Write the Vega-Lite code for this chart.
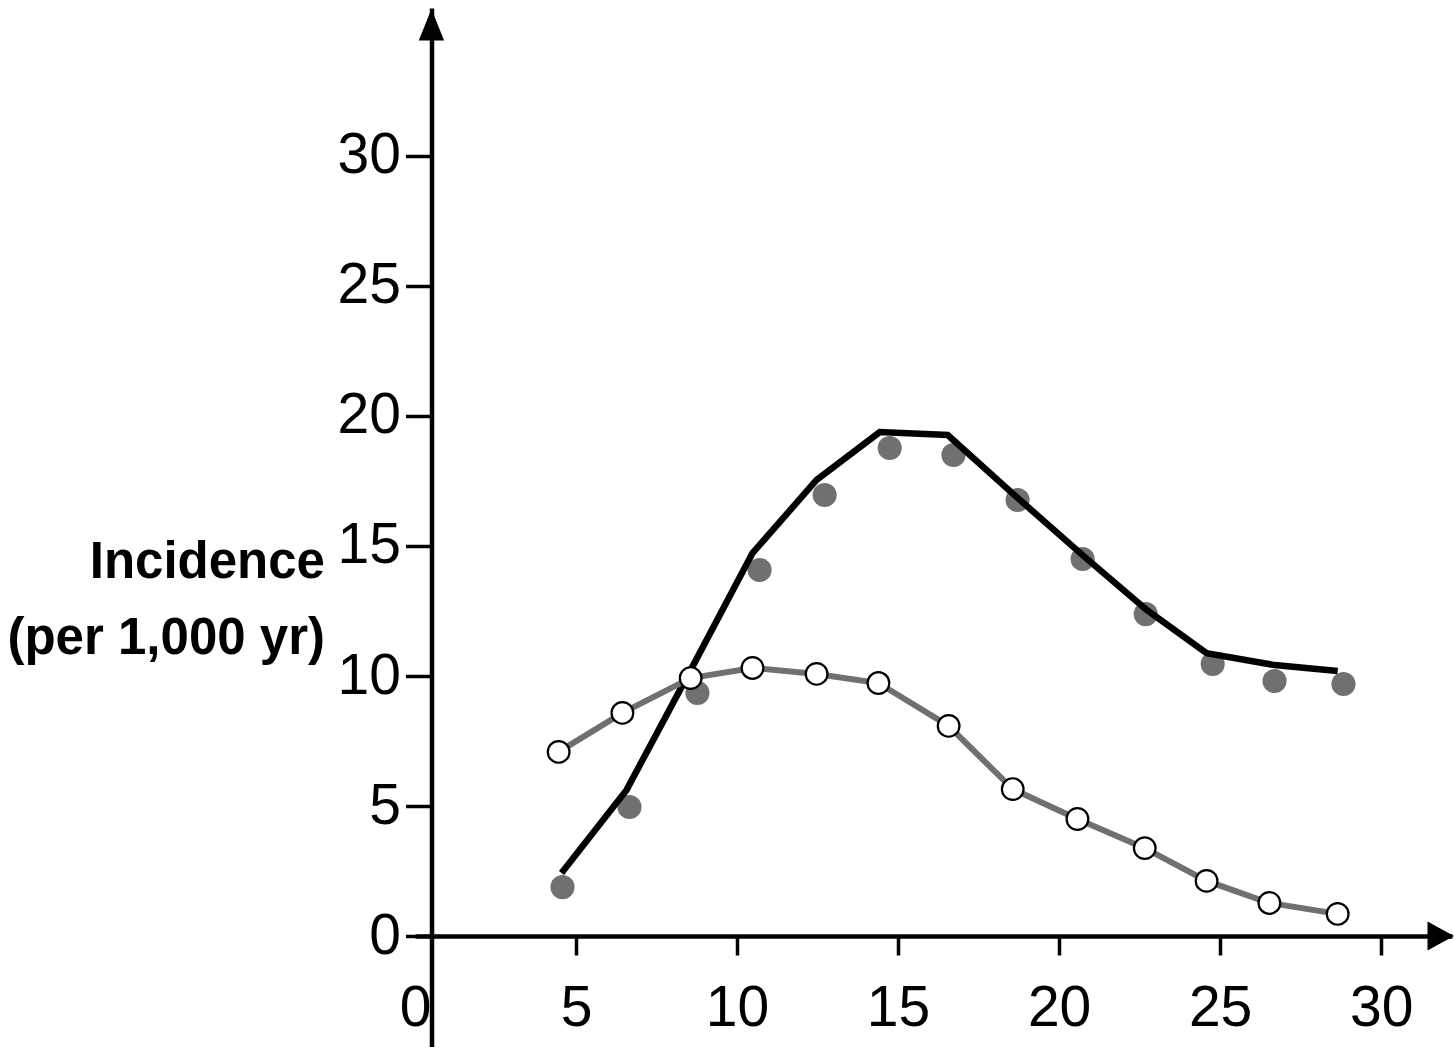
{
  "$schema": "https://vega.github.io/schema/vega-lite/v6.json",
  "width": 1037,
  "height": 1039,
  "padding": {"left": 415, "top": 8, "right": 3, "bottom": 0},
  "autosize": {"type": "none"},
  "background": "white",
  "config": {
    "view": {"stroke": null},
    "font": "Liberation Sans, Arial, sans-serif"
  },
  "datasets": {
    "filled": [
      {"x": 4.58, "y": 1.88}, {"x": 6.66, "y": 4.96}, {"x": 8.77, "y": 9.35},
      {"x": 10.70, "y": 14.08}, {"x": 12.72, "y": 16.96}, {"x": 14.74, "y": 18.77},
      {"x": 16.72, "y": 18.50}, {"x": 18.71, "y": 16.77}, {"x": 20.73, "y": 14.50},
      {"x": 22.69, "y": 12.38}, {"x": 24.77, "y": 10.46}, {"x": 26.69, "y": 9.81},
      {"x": 28.83, "y": 9.69}
    ],
    "fit": [
      {"x": 4.55, "y": 2.42}, {"x": 6.57, "y": 5.62}, {"x": 8.72, "y": 10.6},
      {"x": 10.48, "y": 14.73}, {"x": 12.47, "y": 17.54}, {"x": 14.43, "y": 19.38},
      {"x": 16.54, "y": 19.27}, {"x": 18.71, "y": 16.85}, {"x": 20.73, "y": 14.65},
      {"x": 22.72, "y": 12.54}, {"x": 24.58, "y": 10.88}, {"x": 26.69, "y": 10.42},
      {"x": 28.65, "y": 10.19}
    ],
    "open": [
      {"x": 4.46, "y": 7.08}, {"x": 6.44, "y": 8.58}, {"x": 8.56, "y": 9.92},
      {"x": 10.48, "y": 10.31}, {"x": 12.47, "y": 10.08}, {"x": 14.39, "y": 9.73},
      {"x": 16.57, "y": 8.08}, {"x": 18.56, "y": 5.65}, {"x": 20.57, "y": 4.50},
      {"x": 22.66, "y": 3.38}, {"x": 24.58, "y": 2.12}, {"x": 26.53, "y": 1.27},
      {"x": 28.65, "y": 0.85}
    ],
    "arrows": [
      {"axis": "y"}
    ]
  },
  "layer": [
    {
      "data": {"name": "filled"},
      "mark": {"type": "point", "shape": "circle", "filled": true, "size": 580, "color": "#707070", "opacity": 1},
      "encoding": {
        "x": {
          "field": "x", "type": "quantitative",
          "scale": {"domain": [0, 32.2], "nice": false, "zero": false},
          "axis": {
            "values": [0, 5, 10, 15, 20, 25, 30],
            "offset": -111,
            "grid": false,
            "title": null,
            "domainColor": "black", "domainWidth": 4.5,
            "tickColor": {"condition": {"test": "datum.value === 0", "value": "transparent"}, "value": "black"},
            "tickWidth": 3.5, "tickSize": 19,
            "labelFontSize": 57, "labelColor": "black", "labelPadding": 25,
            "labelFlush": false, "labelOverlap": false, "labelBound": false
          }
        },
        "y": {
          "field": "y", "type": "quantitative",
          "scale": {"domain": [-4.269, 35.692], "nice": false, "zero": false},
          "axis": {
            "values": [0, 5, 10, 15, 20, 25, 30],
            "offset": -16.5,
            "grid": false,
            "domainColor": "black", "domainWidth": 4.5,
            "tickColor": "black", "tickWidth": 3.5, "tickSize": 26,
            "labelFontSize": 57, "labelColor": "black", "labelPadding": 5,
            "labelOverlap": false, "labelBound": false, "labelFlush": false,
            "title": ["Incidence", "(per 1,000 yr)"],
            "titleAngle": 0, "titleAlign": "right", "titleBaseline": "alphabetic",
            "titleX": -107, "titleY": 569,
            "titleFontSize": 51, "titleFontWeight": "bold", "titleColor": "black",
            "titleLineHeight": 76
          }
        }
      }
    },
    {
      "data": {"name": "fit"},
      "mark": {"type": "line", "color": "black", "strokeWidth": 6.5},
      "encoding": {
        "x": {"field": "x", "type": "quantitative"},
        "y": {"field": "y", "type": "quantitative"}
      }
    },
    {
      "data": {"name": "open"},
      "mark": {"type": "line", "color": "#707070", "strokeWidth": 6},
      "encoding": {
        "x": {"field": "x", "type": "quantitative"},
        "y": {"field": "y", "type": "quantitative"}
      }
    },
    {
      "data": {"name": "open"},
      "mark": {"type": "point", "shape": "circle", "filled": true, "size": 470, "fill": "white", "stroke": "black", "strokeWidth": 2.2, "opacity": 1},
      "encoding": {
        "x": {"field": "x", "type": "quantitative"},
        "y": {"field": "y", "type": "quantitative"}
      }
    },
    {
      "data": {"name": "arrows"},
      "mark": {"type": "point", "shape": "M0,-1L0.8,1L-0.8,1Z", "filled": true, "size": 1000, "color": "black", "opacity": 1},
      "encoding": {
        "x": {"datum": 0.51, "type": "quantitative"},
        "y": {"datum": 35.05, "type": "quantitative"}
      }
    },
    {
      "data": {"name": "arrows"},
      "mark": {"type": "point", "shape": "M1,0L-1,-1.1L-1,1.1Z", "filled": true, "size": 700, "color": "black", "opacity": 1},
      "encoding": {
        "x": {"datum": 31.85, "type": "quantitative"},
        "y": {"datum": 0, "type": "quantitative"}
      }
    }
  ]
}
